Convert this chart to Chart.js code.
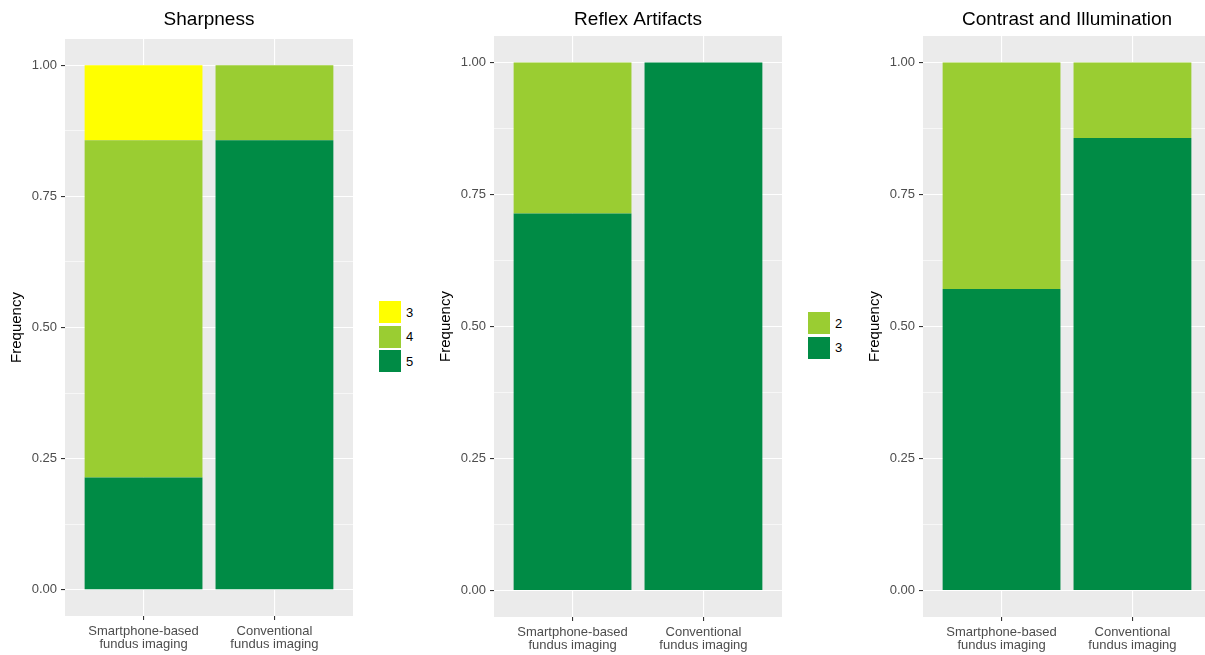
<!DOCTYPE html>
<html>
<head>
<meta charset="utf-8">
<script src="https://cdn.jsdelivr.net/npm/chart.js@4.4.1/dist/chart.umd.min.js"></script>
<style>
  html, body { margin: 0; padding: 0; background: #fff; overflow: hidden; }
  body { width: 1205px; height: 655px; position: relative; font-family: "Liberation Sans", Arial, sans-serif; }
  .panel { position: absolute; top: 0; width: 355px; height: 655px; }
  .legend { position: absolute; font-size: 13px; color: #000; }
  .legend .item { display: flex; align-items: center; height: 24.5px; }
  .legend .key { width: 22px; height: 22px; margin-right: 5px; }
</style>
</head>
<body>
<div class="panel" style="left:0px"><canvas id="c1"></canvas></div>
<div class="panel" style="left:429px"><canvas id="c2"></canvas></div>
<div class="panel" style="left:858px"><canvas id="c3"></canvas></div>
<div class="legend" id="l1" style="left:379px; top:300px"></div>
<div class="legend" id="l2" style="left:808px; top:311px"></div>
<script>
// categories on the x axis (split into two lines like the original)
const categories = [['Smartphone-based', 'fundus imaging'], ['Conventional', 'fundus imaging']];
const categoryX = [1, 2];

// Sharpness (stack order bottom -> top: 5, 4, 3)
const sharpnessLevels = ['5', '4', '3'];
const sharpness5 = [0.214, 0.857];
const sharpness4 = [0.643, 0.143];
const sharpness3 = [0.143, 0];

// Reflex Artifacts (bottom -> top: 3, 2)
const reflexLevels = ['3', '2'];
const reflex3 = [0.714, 1.0];
const reflex2 = [0.286, 0];

// Contrast and Illumination (bottom -> top: 3, 2)
const contrastLevels = ['3', '2'];
const contrast3 = [0.571, 0.857];
const contrast2 = [0.429, 0.143];

const yMajorTicks = [0, 0.25, 0.5, 0.75, 1];
const yMinorTicks = [0.125, 0.375, 0.625, 0.875];

const darkGreen = '#008B45';
const lightGreen = '#9ACD32';
const yellow = '#FFFF00';

Chart.defaults.font.family = '"Liberation Sans", Arial, sans-serif';

const panels = [
  { canvas: 'c1', legend: 'l1', title: 'Sharpness', levels: sharpnessLevels,
    series: [sharpness5, sharpness4, sharpness3], colors: [darkGreen, lightGreen, yellow], top: 39, bottom: 616 },
  { canvas: 'c2', legend: 'l2', title: 'Reflex Artifacts', levels: reflexLevels,
    series: [reflex3, reflex2], colors: [darkGreen, lightGreen], top: 36, bottom: 617 },
  { canvas: 'c3', legend: null, title: 'Contrast and Illumination', levels: contrastLevels,
    series: [contrast3, contrast2], colors: [darkGreen, lightGreen], top: 36, bottom: 617 }
];

// grey panel background like ggplot
const panelBg = {
  id: 'panelBg',
  beforeDraw(chart) {
    const { ctx, chartArea: a } = chart;
    ctx.save();
    ctx.fillStyle = '#EBEBEB';
    ctx.fillRect(a.left, a.top, a.right - a.left, a.bottom - a.top);
    ctx.restore();
  }
};

const isMajor = c => c.tick && yMajorTicks.includes(c.tick.value);

function makeChart(p) {
  new Chart(document.getElementById(p.canvas), {
    type: 'bar',
    data: {
      datasets: p.series.map((vals, i) => ({
        label: p.levels[i],
        data: categoryX.map((x, j) => ({ x: x, y: vals[j] })),
        backgroundColor: p.colors[i],
        borderWidth: 0,
        barPercentage: 0.9,
        categoryPercentage: 1
      }))
    },
    options: {
      responsive: true,
      maintainAspectRatio: false,
      animation: false,
      layout: { padding: { left: 0, right: 2, top: 0, bottom: 0 } },
      plugins: {
        legend: { display: false },
        tooltip: { enabled: false },
        title: {
          display: true, text: p.title, fullSize: false, color: '#000',
          font: { size: 19, weight: 'normal' },
          padding: { top: 8, bottom: p.top - 8 - 22.8 }
        }
      },
      scales: {
        x: {
          type: 'linear', stacked: true, min: 0.4, max: 2.6, offset: false,
          afterBuildTicks: s => { s.ticks = categoryX.map(v => ({ value: v })); },
          afterFit: s => { s.height = 655 - p.bottom; },
          ticks: {
            autoSkip: false, maxRotation: 0, minRotation: 0, padding: 4.5,
            color: '#4D4D4D', font: { size: 13, lineHeight: 1 },
            callback: v => categories[categoryX.indexOf(v)]
          },
          grid: { offset: false, color: '#FFFFFF', lineWidth: 1.1, tickColor: '#333333', tickLength: 4, tickWidth: 1.1 },
          border: { display: false }
        },
        y: {
          stacked: true, min: -0.05, max: 1.05,
          afterBuildTicks: s => {
            s.ticks = yMajorTicks.concat(yMinorTicks).sort((a, b) => a - b).map(v => ({ value: v }));
          },
          afterFit: s => { s.width = 65; },
          ticks: {
            autoSkip: false, padding: 4, color: '#4D4D4D', font: { size: 13 },
            callback: v => yMajorTicks.includes(v) ? v.toFixed(2) : ''
          },
          grid: {
            color: '#FFFFFF',
            lineWidth: c => isMajor(c) ? 1.1 : 0.6,
            tickColor: c => isMajor(c) ? '#333333' : 'rgba(0,0,0,0)',
            tickLength: 4, tickWidth: 1.1
          },
          border: { display: false },
          title: { display: true, text: 'Frequency', color: '#000', font: { size: 15 }, padding: { top: 8, bottom: 0 } }
        }
      }
    },
    plugins: [panelBg]
  });

  if (p.legend) {
    const box = document.getElementById(p.legend);
    for (let i = p.levels.length - 1; i >= 0; i--) {
      const item = document.createElement('div');
      item.className = 'item';
      const key = document.createElement('div');
      key.className = 'key';
      key.style.background = p.colors[i];
      const txt = document.createElement('span');
      txt.textContent = p.levels[i];
      item.appendChild(key);
      item.appendChild(txt);
      box.appendChild(item);
    }
  }
}

panels.forEach(makeChart);
</script>
</body>
</html>
